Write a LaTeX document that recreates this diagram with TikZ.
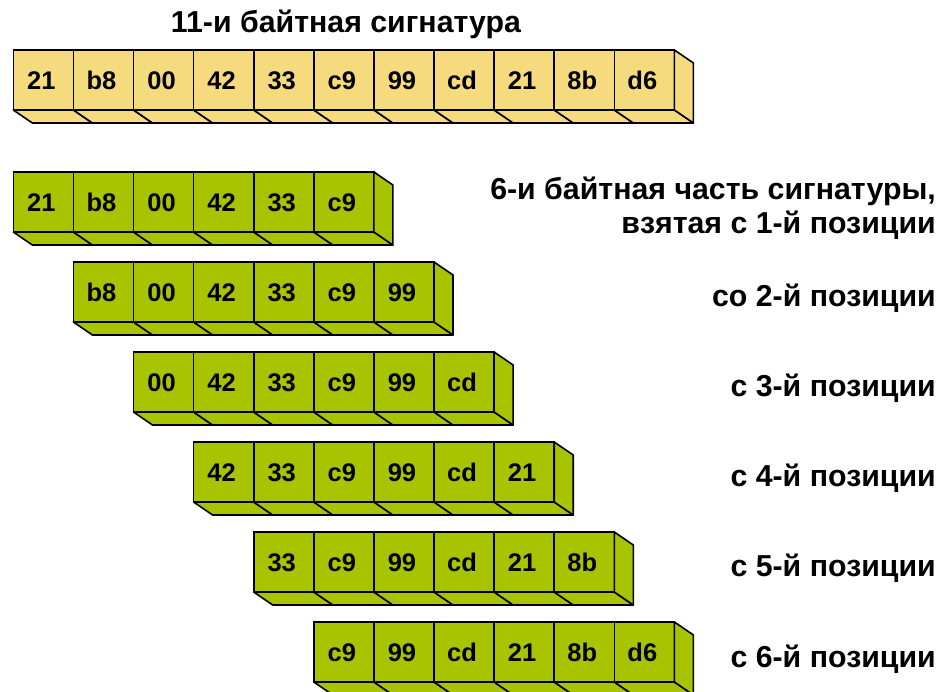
\documentclass[tikz,border=0pt]{standalone}
\usepackage{fontspec}
\setmainfont{Liberation Sans}
\definecolor{sigyellow}{HTML}{F6DB7E}
\definecolor{siggreen}{HTML}{A8C400}
\newcommand\SigRow[5]{%
  \foreach \v [count=\i] in {#5} {
    \node[cell, fill=#4] (#1-\i) at ({#2+(\i-1)*60.1},#3) {\v};
    \filldraw[face, fill=#4] (#1-\i.south west) -- (#1-\i.south east) -- ++(19,13) -- ++(-60.1,0) -- cycle;
    \xdef\SigLast{\i}
  }
  \filldraw[face, fill=#4] (#1-\SigLast.north east) -- ++(19,13) -- ++(0,60) -- (#1-\SigLast.south east) -- cycle;
}
\begin{document}
\begin{tikzpicture}[x=1pt,y=-1pt,
  cell/.style={draw=black, line width=1.6pt, minimum width=60.1pt, minimum height=60pt,
    inner sep=0pt, outer sep=0pt, anchor=north west, font=\bfseries\fontsize{25.5}{28}\selectfont,
    text height=18.3pt, text depth=0pt,
    execute at begin node={\hspace*{-4pt}}},
  face/.style={draw=black, line width=1.6pt, line join=round},
  lbl/.style={font=\bfseries\fontsize{30.3}{34}\selectfont, inner sep=0pt, align=right}]
\useasboundingbox (0,0) rectangle (938,692);
\node[lbl, anchor=base] (title) at (346,33) {11-и байтная сигнатура};
\SigRow{r0}{13.3}{50}{sigyellow}{21,b8,00,42,33,c9,99,cd,21,8b,d6}
\SigRow{r1}{13.3}{172}{siggreen}{21,b8,00,42,33,c9}
\SigRow{r2}{73.4}{262}{siggreen}{b8,00,42,33,c9,99}
\SigRow{r3}{133.5}{352}{siggreen}{00,42,33,c9,99,cd}
\SigRow{r4}{193.6}{442}{siggreen}{42,33,c9,99,cd,21}
\SigRow{r5}{253.7}{532}{siggreen}{33,c9,99,cd,21,8b}
\SigRow{r6}{313.8}{622}{siggreen}{c9,99,cd,21,8b,d6}
\node[lbl, anchor=base east] (l1) at (936,200) {6-и байтная часть сигнатуры,};
\node[lbl, anchor=base east] (l1b) at (936,234) {взятая с 1-й позиции};
\node[lbl, anchor=base east] (l2) at (936,307) {со 2-й позиции};
\node[lbl, anchor=base east] (l3) at (936,397) {с 3-й позиции};
\node[lbl, anchor=base east] (l4) at (936,487) {с 4-й позиции};
\node[lbl, anchor=base east] (l5) at (936,577) {с 5-й позиции};
\node[lbl, anchor=base east] (l6) at (936,667) {с 6-й позиции};
\end{tikzpicture}
\end{document}
